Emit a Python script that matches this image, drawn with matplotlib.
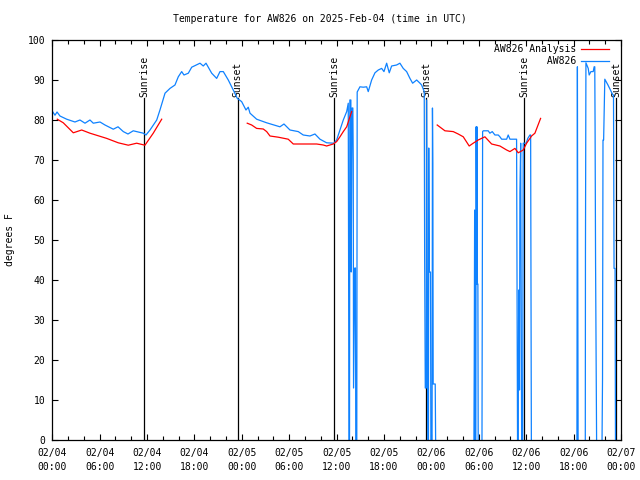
import matplotlib
matplotlib.use('Agg')
import matplotlib.pyplot as plt
import matplotlib.dates as mdates
import numpy as np
import pandas as pd

nan = np.nan

# hours after 2025-02-04 00:00 UTC
red_hours = [0.63, 1.39, 2.66, 3.72, 4.77, 6.89, 8.35, 9.62, 10.68, 11.73, 12.78, 13.85,
             19.0,
             24.68, 25.24, 25.87, 26.71, 27.14, 27.56, 28.61, 29.87, 30.51, 33.47, 34.30, 34.73,
             35.57, 36.0, 36.42, 36.84, 37.27, 37.9,
             43.0,
             48.73, 49.71, 50.76, 51.39, 52.03, 52.78, 53.29, 53.92, 54.77, 55.62, 56.67, 57.52,
             57.94, 58.57, 58.99, 59.62, 60.05, 60.68, 61.10, 61.82]
red_temps = [80.2, 79.3, 76.8, 77.5, 76.7, 75.4, 74.3, 73.7, 74.2, 73.7, 76.7, 80.2,
             nan,
             79.2, 78.75, 77.9, 77.75, 77.1, 76.0, 75.7, 75.2, 74.0, 74.0, 73.75, 73.5,
             74.0, 74.6, 75.8, 77.1, 78.3, 82.1,
             nan,
             78.75, 77.3, 77.1, 76.5, 75.8, 73.5, 74.2, 75.0, 75.8, 74.0, 73.5, 72.5,
             72.1, 72.9, 71.8, 72.5, 74.2, 76.0, 76.7, 80.4]

blue_hours = [
    # day 1 and night
    0, 0.34, 0.6, 0.97, 1.82, 2.87, 3.5, 4.14, 4.77, 5.19, 6.04, 6.67, 7.72, 8.32, 8.99,
    9.58, 10.25, 11.52, 11.86, 12.37, 13.22, 13.63, 14.27, 14.9, 15.53, 15.95, 16.38, 16.67,
    17.22, 17.65, 18.7, 19.11, 19.46, 20.18, 20.81, 21.23, 21.65, 22.28, 22.91, 23.42, 23.97,
    24.52, 24.81, 25.03, 25.87, 27.14, 28.82, 29.33, 30.09, 31.14, 31.77, 32.62, 33.25, 33.89,
    34.73, 35.66, 36.0, 36.42, 36.84, 37.27, 37.47,
    # dropouts
    37.52, 37.56, 37.63, 37.67, 37.80, 37.84, 37.95, 38.05, 38.10, 38.14, 38.30, 38.38,
    38.42, 38.55, 38.60,
    # day 2
    38.95, 39.37, 39.8, 40.0, 40.43, 40.85, 41.27, 41.7, 41.99, 42.33, 42.66, 42.96, 43.59,
    44.01, 44.43, 44.86, 45.28, 45.62, 46.13, 46.55, 46.76, 47.09,
    47.14, 47.22, 47.36, 47.40, 47.47, 47.52, 47.56, 47.62, 47.66, 47.72, 47.88, 47.93,
    48.08, 48.13, 48.18, 48.22, 48.48, 48.53,
    51.0,
    53.38, 53.42, 53.47, 53.52, 53.62, 53.66, 53.72, 53.76, 53.82, 53.88, 53.92, 54.0,
    54.40, 54.44, 54.48,
    54.56, 55.19, 55.4, 55.7, 56.04, 56.46, 56.67, 56.89, 57.52, 57.72, 57.94, 58.78,
    58.84, 58.90, 58.98, 59.05, 59.15, 59.20, 59.30, 59.36, 59.42, 59.55, 59.62, 60.0,
    60.2, 60.47, 60.56, 60.6, 60.65,
    63.0,
    # day 3
    66.42, 66.45, 66.48, 66.52, 66.57, 67.0, 67.48, 67.5, 67.56, 67.85, 67.97, 68.19,
    68.48, 68.6, 68.68, 68.72, 68.78, 68.86, 68.91, 69.3, 69.6, 69.66, 69.72, 69.8,
    69.95, 70.35, 70.75, 70.97, 71.05, 71.12, 71.25, 71.3]
blue_temps = [
    82.2, 81.2, 82.0, 81.0, 80.2, 79.5, 80.0, 79.2, 80.0, 79.2, 79.5, 78.75, 77.7, 78.3, 77.1,
    76.5, 77.3, 76.7, 76.25, 77.5, 80.0, 82.5, 86.7, 87.9, 88.75, 90.8, 92.1, 91.25,
    91.7, 93.2, 94.2, 93.5, 94.2, 91.7, 90.4, 92.1, 92.1, 90.0, 87.5, 85.4, 84.6,
    82.5, 83.2, 81.7, 80.2, 79.3, 78.3, 79.0, 77.5, 77.1, 76.25, 76.0, 76.5, 75.2,
    74.3, 74.2, 75.0, 77.5, 80.0, 82.1, 84.2,
    41, 0, 0, 85, 85, 42, 83, 83, 70, 13, 43, 43,
    0, 0, 87,
    88.3, 88.2, 88.3, 87.1, 90.0, 91.8, 92.5, 92.9, 92.1, 94.2, 91.8, 93.5, 93.75,
    94.2, 92.9, 92.1, 90.4, 89.2, 90.0, 89.2, 88.75, 87.1,
    46, 13, 13, 85, 42, 14, 0, 0, 73, 42, 42, 0,
    0, 83, 69, 14, 14, 0,
    nan,
    0, 19, 57.5, 0, 0, 78.3, 39, 78.3, 39, 39, 0, nan,
    0, 38, 77.1,
    77.3, 77.3, 76.7, 77.1, 76.25, 76.25, 75.8, 75.2, 75.2, 76.25, 75.2, 75.2,
    37.5, 0, 0, 37.5, 12.5, 61.7, 74.2, 38, 0, 0, 74.2, 74.2,
    75.4, 76.25, 76.25, 38, 0,
    nan,
    0, 46.7, 93.3, 46.7, 0, nan, 0, 47, 94.3, 92.9, 91.25, 92.1,
    92.1, 93.3, 93.3, 77.5, 44.2, 15.4, 0, nan, 0, 15, 75, 75,
    90.2, 88.75, 87.1, 86.25, 86.25, 42.9, 42.9, 0]

sunrise_hours = [11.65, 35.7, 59.75]
sunset_hours = [23.45, 47.35, 71.4]
sun_label_top = 85.5

start = pd.Timestamp('2025-02-04 00:00')
def to_time(hours):
    return start + pd.to_timedelta(np.array(hours), unit='h')

plt.rcParams['font.family'] = ['DejaVu Sans Mono']
fs = 7

fig = plt.figure(figsize=(6.4, 4.8), dpi=100)
ax = fig.add_axes([52.3 / 640, 40 / 480, 568.7 / 640, 400 / 480])

# sunrise / sunset markers
for hrs, name in [(sunrise_hours, 'Sunrise'), (sunset_hours, 'Sunset')]:
    for t in to_time(hrs):
        ax.plot([t, t], [0, sun_label_top], color='black', lw=0.9, zorder=1)
        ax.text(t, sun_label_top + 0.3, name, rotation=90, ha='center', va='bottom',
                fontsize=fs, zorder=1)

red_line, = ax.plot(to_time(red_hours), red_temps, color='#ff0000', lw=0.9, zorder=3)
blue_line, = ax.plot(to_time(blue_hours), blue_temps, color='#0f82ff', lw=0.9, zorder=2)

ax.set_xlim(start, start + pd.Timedelta(hours=72))
ax.set_ylim(0, 100)
ax.set_yticks(np.arange(0, 101, 10))
ax.xaxis.set_major_locator(mdates.HourLocator(byhour=range(0, 24, 6)))
ax.xaxis.set_minor_locator(mdates.HourLocator(byhour=range(0, 24, 2)))
ax.xaxis.set_major_formatter(mdates.DateFormatter('%m/%d\n%H:%M'))
ax.tick_params(which='both', direction='in', top=True, right=True, labelsize=fs, width=0.8)
ax.tick_params(which='major', length=4.5)
ax.tick_params(which='minor', length=3)
ax.tick_params(axis='x', pad=6)
ax.tick_params(axis='y', pad=5)
for lbl in ax.get_xticklabels():
    lbl.set_linespacing(1.5)
for s in ax.spines.values():
    s.set_linewidth(0.9)

leg = ax.legend([red_line, blue_line], ['AW826 Analysis', '         AW826'],
                loc='upper right', bbox_to_anchor=(0.979, 0.99), frameon=False,
                fontsize=fs, handlelength=2.9, handletextpad=0.5, labelspacing=0.25,
                borderpad=0, borderaxespad=0, markerfirst=False)

fig.text(0.5, 1 - 19 / 480, 'Temperature for AW826 on 2025-Feb-04 (time in UTC)',
         ha='center', va='center', fontsize=fs)
fig.text(10 / 640, 0.5, 'degrees F', rotation=90, ha='center', va='center', fontsize=fs)

fig.savefig('out.png', dpi=100)
